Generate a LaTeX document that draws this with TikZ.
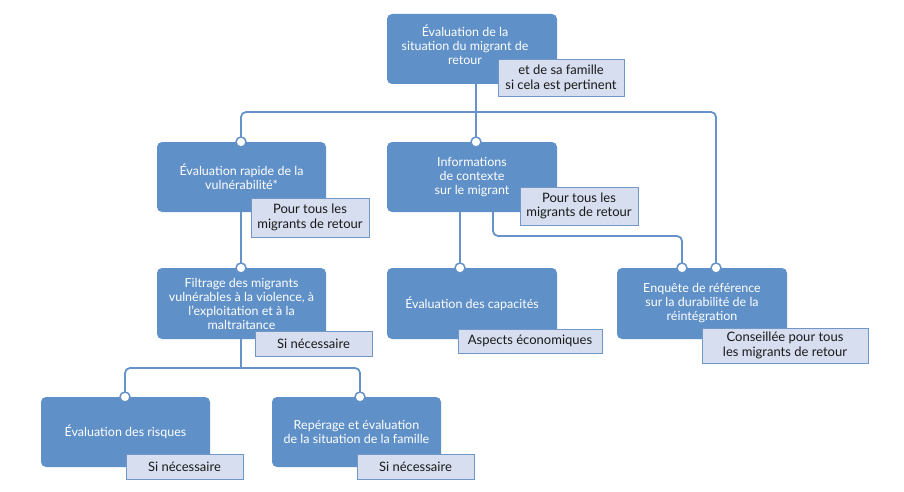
\documentclass[tikz,border=0pt]{standalone}
\usepackage{fontspec}
\setmainfont{Lato}
\definecolor{boxblue}{HTML}{5F90C8}
\definecolor{lineblue}{HTML}{6592C9}
\definecolor{tagfill}{HTML}{D6DEEF}
\definecolor{tagborder}{HTML}{7097C8}
\begin{document}
\begin{tikzpicture}[x=1pt,y=-1pt,
  boxfont/.style={font=\fontsize{12.5}{14}\selectfont},
  box/.style={fill=boxblue, rounded corners=5pt, text=white, align=center, inner sep=0pt,
    minimum width=170pt, minimum height=70pt, boxfont},
  boxlabel/.style={text=white, align=center, inner sep=0pt, boxfont},
  tag/.style={fill=tagfill, draw=tagborder, line width=1pt, text=black!90, align=center, inner sep=0pt,
    font=\fontsize{13}{14.5}\selectfont},
  conn/.style={draw=lineblue, line width=1.8pt, rounded corners=5pt},
  dotc/.style={draw=lineblue, fill=white, line width=1.5pt}]
\useasboundingbox (0,0) rectangle (904,492);

% coordinates of connection points
\coordinate (pI) at (476,142);
\coordinate (pR) at (241,142);
\coordinate (pF) at (241,268);
\coordinate (pC) at (460,268);
\coordinate (pE1) at (682,268);
\coordinate (pE2) at (716,268);
\coordinate (pK) at (125,397);
\coordinate (pS) at (360,397);
\coordinate (hub) at (476,112);
\coordinate (hub2) at (241,368);
\coordinate (q) at (493,236);

% boxes
\node[box, label={[boxlabel, xshift=-7pt, yshift=4pt]center:{Évaluation de la\\situation du migrant de\\retour}}] (top) at (472,49) {};
\node[box, minimum width=169pt] (rapid) at (241.5,177) {Évaluation rapide de la\\vulnérabilité*};
\node[box] (info) at (472,177) {Informations\\de contexte\\sur le migrant};
\node[box, minimum width=169pt, minimum height=71pt] (filt) at (241.5,303.5) {Filtrage des migrants\\vulnérables à la violence, à\\l’exploitation et à la\\maltraitance};
\node[box, minimum height=71pt] (capa) at (472,303.5) {Évaluation des capacités};
\node[box, minimum height=71pt] (enq) at (702,303.5) {Enquête de référence\\sur la durabilité de la\\réintégration};
\node[box, minimum width=169pt] (risk) at (125.5,432) {Évaluation des risques};
\node[box, minimum width=169pt] (fam) at (356.5,432) {Repérage et évaluation\\de la situation de la famille};

% connectors
\draw[conn] (top.south -| hub) -- (pI);
\draw[conn] (pR) |- (hub) -| (pE2);
\draw[conn] (rapid.south -| pF) -- (pF);
\draw[conn] (filt.south -| hub2) -- (hub2);
\draw[conn] (pK) |- (hub2) -| (pS);
\draw[conn] (info.south -| pC) -- (pC);
\draw[conn] (info.south -| q) -- (q) -| (pE1);

% tags
\node[tag, minimum width=126pt, minimum height=37pt] (ttop) at (561,78.5) {et de sa famille\\si cela est pertinent};
\node[tag, minimum width=118pt, minimum height=39pt] (trapid) at (310,217.5) {Pour tous les\\migrants de retour};
\node[tag, minimum width=118pt, minimum height=38pt] (tinfo) at (579,206) {Pour tous les\\migrants de retour};
\node[tag, minimum width=144pt, minimum height=24pt] (tcapa) at (530,341) {Aspects économiques};
\node[tag, minimum width=166pt, minimum height=35pt] (tenq) at (785,345.5) {Conseillée pour tous\\les migrants de retour};
\node[tag, minimum width=117pt, minimum height=25pt] (tfilt) at (313.5,343.5) {Si nécessaire};
\node[tag, minimum width=117pt, minimum height=25pt] (trisk) at (184.5,466.5) {Si nécessaire};
\node[tag, minimum width=117pt, minimum height=25pt] (tfam) at (415.5,466.5) {Si nécessaire};

% connection dots
\foreach \p in {pI,pR,pF,pC,pE1,pE2,pK,pS}
  \draw[dotc] (\p) circle (5pt);
\end{tikzpicture}
\end{document}
